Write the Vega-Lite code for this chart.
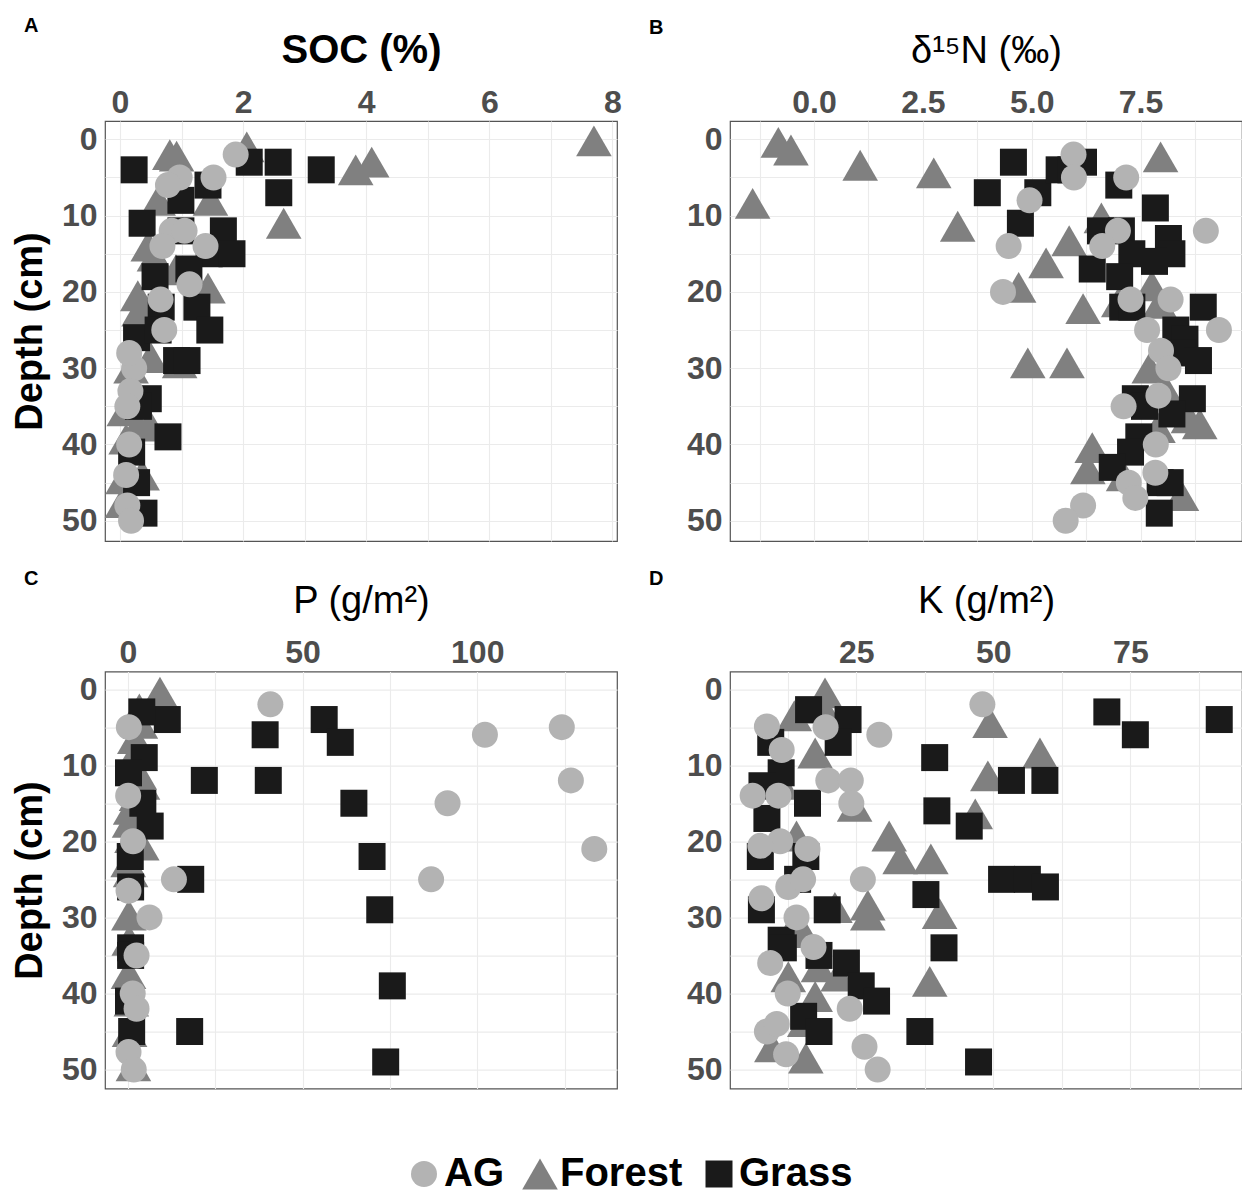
{
  "$schema": "https://vega.github.io/schema/vega-lite/v6.json",
  "padding": {"left": 10, "top": 15, "right": 0, "bottom": 0},
  "config": {
    "font": "Liberation Sans",
    "view": {"stroke": "#555555", "strokeWidth": 1.2},
    "axis": {"grid": true, "gridColor": "#ebebeb", "gridWidth": 1.1, "ticks": false, "tickSize": 0, "domain": false,
      "labelFont": "Liberation Sans", "labelFontSize": 32, "labelFontWeight": "bold", "labelColor": "#4d4d4d",
      "labelOverlap": false, "labelFlush": false, "titleFont": "Liberation Sans", "titleColor": "#000000"},
    "title": {"font": "Liberation Sans", "fontSize": 20, "fontWeight": "bold", "color": "#000000", "anchor": "start", "frame": "group"},
    "legend": {"orient": "none", "legendX": 299, "legendY": 1033, "direction": "horizontal", "title": null,
      "labelFont": "Liberation Sans", "labelFontSize": 40, "labelFontWeight": "bold", "labelColor": "#000000",
      "labelOffset": 0, "columnPadding": 16, "symbolStrokeWidth": 0}
  },
  "datasets": {
    "soc": [
      {"type":"Forest","value":7.7,"depth":0.2},{"type":"Forest","value":0.81,"depth":2},{"type":"Forest","value":0.92,"depth":2.2},{"type":"Forest","value":2.06,"depth":1},{"type":"Forest","value":3.83,"depth":4},{"type":"Forest","value":4.09,"depth":3},{"type":"Forest","value":2.66,"depth":11},{"type":"Forest","value":1.47,"depth":8},{"type":"Forest","value":0.62,"depth":8},{"type":"Forest","value":0.46,"depth":14},{"type":"Forest","value":0.56,"depth":15.3},{"type":"Forest","value":0.91,"depth":17.1},{"type":"Forest","value":1.43,"depth":19.5},{"type":"Forest","value":0.29,"depth":20.5},{"type":"Forest","value":0.31,"depth":22.5},{"type":"Forest","value":0.5,"depth":28.6},{"type":"Forest","value":0.97,"depth":29.3},{"type":"Forest","value":0.18,"depth":30},{"type":"Forest","value":0.07,"depth":35.6},{"type":"Forest","value":0.29,"depth":37.6},{"type":"Forest","value":0.48,"depth":37.4},{"type":"Forest","value":0.1,"depth":39.3},{"type":"Forest","value":0.36,"depth":44},{"type":"Forest","value":0.04,"depth":47.6},{"type":"Forest","value":0.05,"depth":44.5},
      {"type":"Grass","value":0.23,"depth":4},{"type":"Grass","value":2.1,"depth":3},{"type":"Grass","value":2.57,"depth":3},{"type":"Grass","value":3.27,"depth":4},{"type":"Grass","value":2.58,"depth":7},{"type":"Grass","value":1.43,"depth":6},{"type":"Grass","value":0.99,"depth":8},{"type":"Grass","value":0.99,"depth":12},{"type":"Grass","value":0.36,"depth":11},{"type":"Grass","value":1.68,"depth":12},{"type":"Grass","value":1.45,"depth":15},{"type":"Grass","value":1.82,"depth":15},{"type":"Grass","value":1.12,"depth":17},{"type":"Grass","value":0.57,"depth":18},{"type":"Grass","value":1.25,"depth":22},{"type":"Grass","value":1.46,"depth":25},{"type":"Grass","value":0.67,"depth":22},{"type":"Grass","value":0.27,"depth":26},{"type":"Grass","value":0.62,"depth":25},{"type":"Grass","value":0.92,"depth":29},{"type":"Grass","value":1.09,"depth":29},{"type":"Grass","value":0.46,"depth":34},{"type":"Grass","value":0.3,"depth":35},{"type":"Grass","value":0.78,"depth":39},{"type":"Grass","value":0.19,"depth":41},{"type":"Grass","value":0.27,"depth":45},{"type":"Grass","value":0.39,"depth":49},
      {"type":"AG","value":1.88,"depth":2},{"type":"AG","value":0.97,"depth":5},{"type":"AG","value":0.78,"depth":6},{"type":"AG","value":1.52,"depth":5},{"type":"AG","value":0.84,"depth":12},{"type":"AG","value":1.05,"depth":12},{"type":"AG","value":0.69,"depth":14},{"type":"AG","value":1.39,"depth":14},{"type":"AG","value":0.66,"depth":21},{"type":"AG","value":1.13,"depth":19},{"type":"AG","value":0.72,"depth":25},{"type":"AG","value":0.23,"depth":30},{"type":"AG","value":0.15,"depth":28},{"type":"AG","value":0.17,"depth":33},{"type":"AG","value":0.12,"depth":35},{"type":"AG","value":0.15,"depth":40},{"type":"AG","value":0.1,"depth":44},{"type":"AG","value":0.12,"depth":48},{"type":"AG","value":0.18,"depth":50}
    ],
    "d15n": [
      {"type":"Forest","value":-0.82,"depth":0.4},{"type":"Forest","value":-0.53,"depth":1.4},{"type":"Forest","value":1.06,"depth":3.4},{"type":"Forest","value":2.75,"depth":4.4},{"type":"Forest","value":-1.41,"depth":8.4},{"type":"Forest","value":3.3,"depth":11.4},{"type":"Forest","value":7.96,"depth":2.3},{"type":"Forest","value":5.86,"depth":13.3},{"type":"Forest","value":5.33,"depth":16.2},{"type":"Forest","value":4.7,"depth":19.4},{"type":"Forest","value":6.18,"depth":22.2},{"type":"Forest","value":6.6,"depth":10.3},{"type":"Forest","value":7.76,"depth":19.2},{"type":"Forest","value":7.0,"depth":21.3},{"type":"Forest","value":7.94,"depth":21.5},{"type":"Forest","value":4.91,"depth":29.3},{"type":"Forest","value":5.81,"depth":29.3},{"type":"Forest","value":7.7,"depth":30},{"type":"Forest","value":8.1,"depth":33},{"type":"Forest","value":8.6,"depth":36.5},{"type":"Forest","value":8.86,"depth":37.3},{"type":"Forest","value":7.9,"depth":37.8},{"type":"Forest","value":6.39,"depth":40.4},{"type":"Forest","value":6.29,"depth":43.2},{"type":"Forest","value":7.11,"depth":44.1},{"type":"Forest","value":8.44,"depth":46.7},
      {"type":"Grass","value":4.58,"depth":3},{"type":"Grass","value":3.98,"depth":7},{"type":"Grass","value":5.14,"depth":7},{"type":"Grass","value":4.74,"depth":11},{"type":"Grass","value":5.63,"depth":4},{"type":"Grass","value":5.9,"depth":4},{"type":"Grass","value":6.19,"depth":3},{"type":"Grass","value":7.0,"depth":6},{"type":"Grass","value":7.84,"depth":9},{"type":"Grass","value":6.58,"depth":12},{"type":"Grass","value":7.06,"depth":12},{"type":"Grass","value":8.14,"depth":13},{"type":"Grass","value":8.22,"depth":15},{"type":"Grass","value":7.3,"depth":15},{"type":"Grass","value":7.82,"depth":16},{"type":"Grass","value":6.39,"depth":17},{"type":"Grass","value":7.02,"depth":18},{"type":"Grass","value":7.09,"depth":22},{"type":"Grass","value":7.3,"depth":22},{"type":"Grass","value":8.94,"depth":22},{"type":"Grass","value":8.31,"depth":25},{"type":"Grass","value":8.52,"depth":26.2},{"type":"Grass","value":8.45,"depth":28},{"type":"Grass","value":8.83,"depth":29},{"type":"Grass","value":7.38,"depth":34},{"type":"Grass","value":7.59,"depth":35},{"type":"Grass","value":8.69,"depth":34},{"type":"Grass","value":8.22,"depth":36},{"type":"Grass","value":7.46,"depth":39},{"type":"Grass","value":7.27,"depth":41},{"type":"Grass","value":6.85,"depth":43},{"type":"Grass","value":7.95,"depth":45},{"type":"Grass","value":8.18,"depth":45},{"type":"Grass","value":7.93,"depth":49},
      {"type":"AG","value":5.96,"depth":2},{"type":"AG","value":5.97,"depth":5},{"type":"AG","value":7.17,"depth":5},{"type":"AG","value":4.95,"depth":8},{"type":"AG","value":4.47,"depth":14},{"type":"AG","value":9.0,"depth":12},{"type":"AG","value":6.98,"depth":12},{"type":"AG","value":6.62,"depth":14},{"type":"AG","value":4.34,"depth":20},{"type":"AG","value":7.27,"depth":21},{"type":"AG","value":8.19,"depth":21},{"type":"AG","value":7.65,"depth":25},{"type":"AG","value":9.3,"depth":25},{"type":"AG","value":7.97,"depth":27.7},{"type":"AG","value":8.14,"depth":30},{"type":"AG","value":7.11,"depth":35},{"type":"AG","value":7.91,"depth":33.6},{"type":"AG","value":7.85,"depth":40},{"type":"AG","value":7.84,"depth":43.7},{"type":"AG","value":7.23,"depth":45},{"type":"AG","value":7.38,"depth":47},{"type":"AG","value":6.18,"depth":48},{"type":"AG","value":5.78,"depth":50}
    ],
    "p": [
      {"type":"Forest","value":9.2,"depth":0.4},{"type":"Forest","value":3.3,"depth":2.6},{"type":"Forest","value":3.6,"depth":4.5},{"type":"Forest","value":1.9,"depth":8.6},{"type":"Forest","value":3.3,"depth":11.2},{"type":"Forest","value":4.2,"depth":12.5},{"type":"Forest","value":0.8,"depth":15.8},{"type":"Forest","value":0.5,"depth":17.5},{"type":"Forest","value":1.2,"depth":19.5},{"type":"Forest","value":4.0,"depth":20.5},{"type":"Forest","value":0.1,"depth":22.7},{"type":"Forest","value":0.3,"depth":29.7},{"type":"Forest","value":0.2,"depth":37.4},{"type":"Forest","value":0.5,"depth":45},{"type":"Forest","value":1.6,"depth":49.5},{"type":"Forest","value":0.8,"depth":24},{"type":"Forest","value":0.4,"depth":33},{"type":"Forest","value":1.0,"depth":41},{"type":"Forest","value":2.0,"depth":6.5},{"type":"Forest","value":2.5,"depth":14},
      {"type":"Grass","value":11.3,"depth":4},{"type":"Grass","value":4,"depth":3},{"type":"Grass","value":56.2,"depth":4},{"type":"Grass","value":60.8,"depth":7},{"type":"Grass","value":39.3,"depth":6},{"type":"Grass","value":21.9,"depth":12},{"type":"Grass","value":40.2,"depth":12},{"type":"Grass","value":64.7,"depth":15},{"type":"Grass","value":4.7,"depth":9},{"type":"Grass","value":0.2,"depth":11},{"type":"Grass","value":4.3,"depth":15},{"type":"Grass","value":6.4,"depth":18},{"type":"Grass","value":69.9,"depth":22},{"type":"Grass","value":18,"depth":25},{"type":"Grass","value":0.8,"depth":26},{"type":"Grass","value":72.1,"depth":29},{"type":"Grass","value":0.8,"depth":34},{"type":"Grass","value":0.8,"depth":35},{"type":"Grass","value":75.7,"depth":39},{"type":"Grass","value":0.2,"depth":41},{"type":"Grass","value":17.7,"depth":45},{"type":"Grass","value":1.1,"depth":45},{"type":"Grass","value":73.8,"depth":49},{"type":"Grass","value":0.7,"depth":22},
      {"type":"AG","value":40.8,"depth":2},{"type":"AG","value":102.2,"depth":6},{"type":"AG","value":124.2,"depth":5},{"type":"AG","value":126.8,"depth":12},{"type":"AG","value":91.5,"depth":15},{"type":"AG","value":133.5,"depth":21},{"type":"AG","value":86.8,"depth":25},{"type":"AG","value":13.2,"depth":25},{"type":"AG","value":6.2,"depth":30},{"type":"AG","value":1.4,"depth":40},{"type":"AG","value":0.2,"depth":47.7},{"type":"AG","value":1.7,"depth":50},{"type":"AG","value":2.5,"depth":35},{"type":"AG","value":2.5,"depth":42},{"type":"AG","value":1.5,"depth":20},{"type":"AG","value":0.2,"depth":26.5},{"type":"AG","value":0.3,"depth":5},{"type":"AG","value":0.1,"depth":14}
    ],
    "k": [
      {"type":"Forest","value":19.3,"depth":0.5},{"type":"Forest","value":13.7,"depth":3.5},{"type":"Forest","value":19.0,"depth":2.5},{"type":"Forest","value":49.4,"depth":4.4},{"type":"Forest","value":17.5,"depth":8.4},{"type":"Forest","value":58.5,"depth":8.4},{"type":"Forest","value":49,"depth":11.4},{"type":"Forest","value":11.4,"depth":12.5},{"type":"Forest","value":24.7,"depth":15.4},{"type":"Forest","value":46.7,"depth":16.4},{"type":"Forest","value":31,"depth":19.3},{"type":"Forest","value":33,"depth":22.3},{"type":"Forest","value":38.6,"depth":22.3},{"type":"Forest","value":14.1,"depth":19.3},{"type":"Forest","value":27.1,"depth":28.4},{"type":"Forest","value":27.1,"depth":29.7},{"type":"Forest","value":40.2,"depth":29.5},{"type":"Forest","value":21.1,"depth":28.7},{"type":"Forest","value":14.1,"depth":30.5},{"type":"Forest","value":13.8,"depth":32},{"type":"Forest","value":12.6,"depth":37.8},{"type":"Forest","value":18.1,"depth":36.5},{"type":"Forest","value":21.7,"depth":37.7},{"type":"Forest","value":38.4,"depth":38.4},{"type":"Forest","value":17.5,"depth":40.4},{"type":"Forest","value":15.6,"depth":43.7},{"type":"Forest","value":9.6,"depth":47},{"type":"Forest","value":15.8,"depth":48.5},
      {"type":"Grass","value":16.3,"depth":2.7},{"type":"Grass","value":23.5,"depth":4},{"type":"Grass","value":9.4,"depth":7},{"type":"Grass","value":21.7,"depth":7},{"type":"Grass","value":39.3,"depth":9},{"type":"Grass","value":11.3,"depth":11},{"type":"Grass","value":7.8,"depth":12.7},{"type":"Grass","value":53.3,"depth":12},{"type":"Grass","value":59.4,"depth":12},{"type":"Grass","value":16.1,"depth":15},{"type":"Grass","value":8.7,"depth":17},{"type":"Grass","value":39.7,"depth":16},{"type":"Grass","value":45.6,"depth":18},{"type":"Grass","value":7.5,"depth":22},{"type":"Grass","value":15.8,"depth":22},{"type":"Grass","value":14.3,"depth":25},{"type":"Grass","value":51.5,"depth":25},{"type":"Grass","value":56.2,"depth":25},{"type":"Grass","value":59.5,"depth":26},{"type":"Grass","value":37.7,"depth":27},{"type":"Grass","value":7.7,"depth":29},{"type":"Grass","value":19.7,"depth":29},{"type":"Grass","value":41,"depth":34},{"type":"Grass","value":11.3,"depth":33},{"type":"Grass","value":11.7,"depth":34},{"type":"Grass","value":18.2,"depth":35},{"type":"Grass","value":23.2,"depth":36},{"type":"Grass","value":25.9,"depth":39},{"type":"Grass","value":28.7,"depth":41},{"type":"Grass","value":15.4,"depth":43},{"type":"Grass","value":18.2,"depth":45},{"type":"Grass","value":36.6,"depth":45},{"type":"Grass","value":47.3,"depth":49},{"type":"Grass","value":70.7,"depth":3},{"type":"Grass","value":75.9,"depth":6},{"type":"Grass","value":91.2,"depth":4},
      {"type":"AG","value":48,"depth":2},{"type":"AG","value":8.7,"depth":4.9},{"type":"AG","value":19.4,"depth":5},{"type":"AG","value":29.2,"depth":6},{"type":"AG","value":11.4,"depth":8},{"type":"AG","value":19.9,"depth":12},{"type":"AG","value":24,"depth":12},{"type":"AG","value":6.1,"depth":14},{"type":"AG","value":10.8,"depth":14},{"type":"AG","value":24.1,"depth":15},{"type":"AG","value":11.1,"depth":20},{"type":"AG","value":7.5,"depth":20.6},{"type":"AG","value":16.1,"depth":21},{"type":"AG","value":12.6,"depth":26},{"type":"AG","value":15.3,"depth":25},{"type":"AG","value":26.2,"depth":25},{"type":"AG","value":7.7,"depth":27.5},{"type":"AG","value":14.1,"depth":30},{"type":"AG","value":17.2,"depth":33.9},{"type":"AG","value":9.3,"depth":36},{"type":"AG","value":12.5,"depth":40},{"type":"AG","value":23.8,"depth":42},{"type":"AG","value":8.7,"depth":45},{"type":"AG","value":10.5,"depth":44},{"type":"AG","value":12.2,"depth":48},{"type":"AG","value":26.5,"depth":47},{"type":"AG","value":28.9,"depth":50}
    ]
  },
  "bounds": "flush",
  "columns": 2,
  "spacing": {"row": 130.6, "column": 113},
  "concat": [
    {
      "width": 512, "height": 420,
      "title": {"text": "A", "dx": -81, "offset": -6.3},
      "data": {"name": "soc"},
      "mark": {"type": "point", "filled": true, "opacity": 1, "strokeWidth": 0},
      "encoding": {
        "x": {"field": "value", "type": "quantitative",
          "scale": {"domain": [-0.243, 8.075], "nice": false, "zero": false},
          "axis": {"orient": "top", "values": [0,1,2,3,4,5,6,7,8], "labelExpr": "datum.value % 2 === 0 ? datum.label : ''",
            "title": "SOC (%)", "titleFontSize": 40, "titleFontWeight": "bold", "labelPadding": 2, "titlePadding": 16}},
        "y": {"field": "depth", "type": "quantitative",
          "scale": {"domain": [-2.4, 52.65], "reverse": true, "nice": false, "zero": false},
          "axis": {"values": [0,5,10,15,20,25,30,35,40,45,50], "labelExpr": "datum.value % 10 === 0 ? datum.label : ''",
            "title": "Depth (cm)", "titleFontSize": 38, "titleFontWeight": "bold", "labelPadding": 8, "titlePadding": 12}},
        "color": {"field": "type", "type": "nominal", "scale": {"domain": ["AG","Forest","Grass"], "range": ["#b3b3b3","#808080","#1a1a1a"]}},
        "shape": {"field": "type", "type": "nominal", "scale": {"domain": ["AG","Forest","Grass"], "range": ["circle","triangle-up","square"]}},
        "size": {"field": "type", "type": "nominal", "scale": {"type": "ordinal", "domain": ["AG","Forest","Grass"], "range": [676,1267,729]}}
      }
    },
    {
      "width": 512, "height": 420,
      "title": {"text": "B", "dx": -81, "offset": -6.3},
      "data": {"name": "d15n"},
      "mark": {"type": "point", "filled": true, "opacity": 1, "strokeWidth": 0},
      "encoding": {
        "x": {"field": "value", "type": "quantitative",
          "scale": {"domain": [-1.93, 9.83], "nice": false, "zero": false},
          "axis": {"orient": "top", "values": [-1.25,0,1.25,2.5,3.75,5,6.25,7.5,8.75], "labelExpr": "indexof([0,2.5,5,7.5], datum.value) >= 0 ? format(datum.value, '.1f') : ''",
            "title": "δ¹⁵N (‰)", "titleFontSize": 38, "titleFontWeight": "normal", "labelPadding": 2, "titlePadding": 16}},
        "y": {"field": "depth", "type": "quantitative",
          "scale": {"domain": [-2.4, 52.65], "reverse": true, "nice": false, "zero": false},
          "axis": {"values": [0,5,10,15,20,25,30,35,40,45,50], "labelExpr": "datum.value % 10 === 0 ? datum.label : ''",
            "title": null, "labelPadding": 8}},
        "color": {"field": "type", "type": "nominal", "scale": {"domain": ["AG","Forest","Grass"], "range": ["#b3b3b3","#808080","#1a1a1a"]}},
        "shape": {"field": "type", "type": "nominal", "scale": {"domain": ["AG","Forest","Grass"], "range": ["circle","triangle-up","square"]}},
        "size": {"field": "type", "type": "nominal", "scale": {"type": "ordinal", "domain": ["AG","Forest","Grass"], "range": [676,1267,729]}}
      }
    },
    {
      "width": 512, "height": 417,
      "title": {"text": "C", "dx": -81, "offset": -6.3},
      "data": {"name": "p"},
      "mark": {"type": "point", "filled": true, "opacity": 1, "strokeWidth": 0},
      "encoding": {
        "x": {"field": "value", "type": "quantitative",
          "scale": {"domain": [-6.53, 140], "nice": false, "zero": false},
          "axis": {"orient": "top", "values": [0,25,50,75,100,125], "labelExpr": "datum.value % 50 === 0 ? datum.label : ''",
            "title": "P (g/m²)", "titleFontSize": 38, "titleFontWeight": "normal", "labelPadding": 2, "titlePadding": 16}},
        "y": {"field": "depth", "type": "quantitative",
          "scale": {"domain": [-2.3, 52.5], "reverse": true, "nice": false, "zero": false},
          "axis": {"values": [0,5,10,15,20,25,30,35,40,45,50], "labelExpr": "datum.value % 10 === 0 ? datum.label : ''",
            "title": "Depth (cm)", "titleFontSize": 38, "titleFontWeight": "bold", "labelPadding": 8, "titlePadding": 12}},
        "color": {"field": "type", "type": "nominal", "scale": {"domain": ["AG","Forest","Grass"], "range": ["#b3b3b3","#808080","#1a1a1a"]}},
        "shape": {"field": "type", "type": "nominal", "scale": {"domain": ["AG","Forest","Grass"], "range": ["circle","triangle-up","square"]}},
        "size": {"field": "type", "type": "nominal", "scale": {"type": "ordinal", "domain": ["AG","Forest","Grass"], "range": [676,1267,729]}}
      }
    },
    {
      "width": 512, "height": 417,
      "title": {"text": "D", "dx": -81, "offset": -6.3},
      "data": {"name": "k"},
      "mark": {"type": "point", "filled": true, "opacity": 1, "strokeWidth": 0},
      "encoding": {
        "x": {"field": "value", "type": "quantitative",
          "scale": {"domain": [1.97, 95.35], "nice": false, "zero": false},
          "axis": {"orient": "top", "values": [12.5,25,37.5,50,62.5,75,87.5], "labelExpr": "datum.value % 25 === 0 ? datum.label : ''",
            "title": "K (g/m²)", "titleFontSize": 38, "titleFontWeight": "normal", "labelPadding": 2, "titlePadding": 16}},
        "y": {"field": "depth", "type": "quantitative",
          "scale": {"domain": [-2.3, 52.5], "reverse": true, "nice": false, "zero": false},
          "axis": {"values": [0,5,10,15,20,25,30,35,40,45,50], "labelExpr": "datum.value % 10 === 0 ? datum.label : ''",
            "title": null, "labelPadding": 8}},
        "color": {"field": "type", "type": "nominal", "scale": {"domain": ["AG","Forest","Grass"], "range": ["#b3b3b3","#808080","#1a1a1a"]}},
        "shape": {"field": "type", "type": "nominal", "scale": {"domain": ["AG","Forest","Grass"], "range": ["circle","triangle-up","square"]}},
        "size": {"field": "type", "type": "nominal", "scale": {"type": "ordinal", "domain": ["AG","Forest","Grass"], "range": [676,1267,729]}}
      }
    }
  ]
}
